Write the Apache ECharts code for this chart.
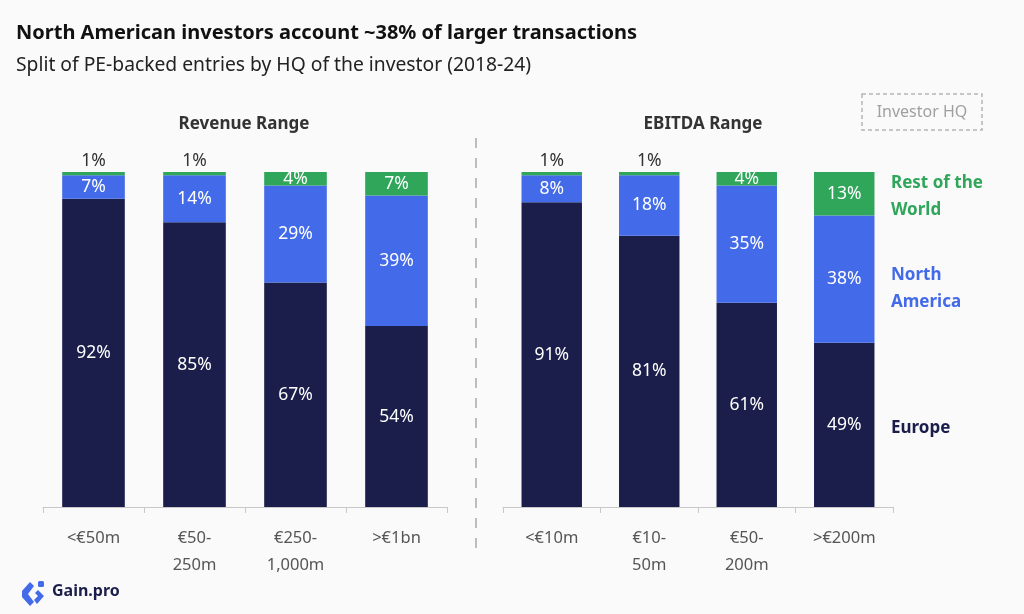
<!DOCTYPE html>
<html>
<head>
<meta charset="utf-8">
<title>Investor HQ split</title>
<script src="https://cdn.jsdelivr.net/npm/echarts@6/dist/echarts.min.js"></script>
<style>
  html, body { margin: 0; padding: 0; background: #fafafa; }
  #chart { width: 1024px; height: 614px; }
</style>
</head>
<body>
<div id="chart"></div>
<script>
  // categories
  var revenueCats = ['<€50m', '€50-\n250m', '€250-\n1,000m', '>€1bn']
  var ebitdaCats = ['<€10m', '€10-\n50m', '€50-\n200m', '>€200m']

  // shares in % (Europe / North America / Rest of the World)
  var revEurope = [92, 85, 67, 54]
  var revNorthAm = [7, 14, 29, 39]
  var revRest = [1, 1, 4, 7]

  var ebEurope = [91, 81, 61, 49]
  var ebNorthAm = [8, 18, 35, 38]
  var ebRest = [1, 1, 4, 13]

  var colors = {
    europe: '#1b1e4b',
    northAm: '#436ae8',
    rest: '#2fa65a'
  }
  var font = '"Noto Sans", "Open Sans", sans-serif'

  // tiny slices get their label above the bar
  function restData(values) {
    return values.map(function (v) {
      if (v <= 2) {
        return {value: v, label: {position: 'top', distance: 2, color: '#333'}}
      }
      return v
    })
  }

  function stackSeries(idx, eu, na, rest) {
    var base = {
      type: 'bar',
      stack: 'share' + idx,
      xAxisIndex: idx,
      yAxisIndex: idx,
      barWidth: '62%',
      label: {
        show: true,
        position: 'inside',
        color: '#fff',
        fontSize: 17.5,
        fontFamily: font,
        formatter: '{c}%'
      }
    }
    return [
      Object.assign({}, base, {name: 'Europe', data: eu, itemStyle: {color: colors.europe}}),
      Object.assign({}, base, {name: 'North America', data: na, itemStyle: {color: colors.northAm}}),
      Object.assign({}, base, {name: 'Rest of the World', data: restData(rest), itemStyle: {color: colors.rest}})
    ]
  }

  function xAxis(idx, cats) {
    return {
      type: 'category',
      gridIndex: idx,
      data: cats,
      axisLine: {lineStyle: {color: '#c8c8c8'}},
      axisTick: {show: true, length: 6, lineStyle: {color: '#c8c8c8'}},
      axisLabel: {
        color: '#555',
        fontSize: 16.5,
        fontFamily: font,
        margin: 18,
        lineHeight: 27,
        interval: 0
      }
    }
  }

  function yAxis(idx) {
    return {type: 'value', gridIndex: idx, min: 0, max: 100, show: false}
  }

  var chart = echarts.init(document.getElementById('chart'))
  var option = {
    backgroundColor: '#fafafa',
    animation: false,
    textStyle: {fontFamily: font},
    grid: [
      {left: 43, width: 404, top: 172, bottom: 107},
      {left: 503, width: 390, top: 172, bottom: 107}
    ],
    xAxis: [xAxis(0, revenueCats), xAxis(1, ebitdaCats)],
    yAxis: [yAxis(0), yAxis(1)],
    series: stackSeries(0, revEurope, revNorthAm, revRest)
      .concat(stackSeries(1, ebEurope, ebNorthAm, ebRest)),
    graphic: [
      {type: 'text', left: 16, top: 23, style: {
        text: 'North American investors account ~38% of larger transactions',
        font: 'bold 20px ' + font, fill: '#111'}},
      {type: 'text', left: 16, top: 56, style: {
        text: 'Split of PE-backed entries by HQ of the investor (2018-24)',
        font: '19.3px ' + font, fill: '#222'}},
      {type: 'text', x: 244, y: 124, style: {
        text: 'Revenue Range', font: 'bold 17px ' + font, fill: '#333',
        align: 'center', verticalAlign: 'middle'}},
      {type: 'text', x: 703, y: 124, style: {
        text: 'EBITDA Range', font: 'bold 17px ' + font, fill: '#333',
        align: 'center', verticalAlign: 'middle'}},
      // divider between the two panels
      {type: 'line', shape: {x1: 476, y1: 138, x2: 476, y2: 555},
        style: {stroke: '#bdbdbd', lineWidth: 2, lineDash: [10, 10]}},
      // investor HQ box
      {type: 'rect', shape: {x: 862, y: 94, width: 120, height: 36},
        style: {fill: 'none', stroke: '#b5b5b5', lineWidth: 1.5, lineDash: [4, 3]}},
      {type: 'text', x: 922, y: 112, style: {
        text: 'Investor HQ', font: '16px ' + font, fill: '#a0a0a0',
        align: 'center', verticalAlign: 'middle'}},
      // right-hand legend
      {type: 'text', left: 891, top: 170, style: {
        text: 'Rest of the\nWorld', font: 'bold 17px ' + font, fill: colors.rest, lineHeight: 27}},
      {type: 'text', left: 891, top: 262, style: {
        text: 'North\nAmerica', font: 'bold 17px ' + font, fill: colors.northAm, lineHeight: 27}},
      {type: 'text', left: 891, top: 415, style: {
        text: 'Europe', font: 'bold 17px ' + font, fill: colors.europe, lineHeight: 27}},
      // Gain.pro logo
      {type: 'polygon', shape: {points: [[30, 582], [22, 591], [22, 597], [30, 606], [34, 602], [28, 594], [34, 586]]},
        style: {fill: '#436ae8'}},
      {type: 'polygon', shape: {points: [[38, 590], [44, 596], [37, 604], [34, 600], [38, 596], [35, 593]]},
        style: {fill: '#436ae8'}},
      {type: 'rect', shape: {x: 38, y: 581, width: 6, height: 6, r: 1.5},
        style: {fill: '#436ae8'}},
      {type: 'text', left: 52, top: 583, style: {
        text: 'Gain.pro', font: 'bold 16px ' + font, fill: '#1b1e4b'}}
    ]
  }
  chart.setOption(option)
</script>
</body>
</html>
